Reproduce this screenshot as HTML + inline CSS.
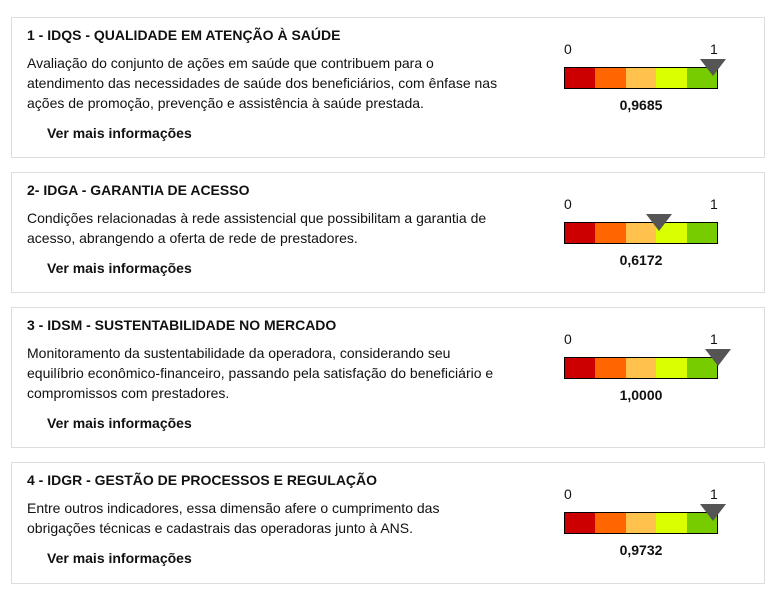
<!DOCTYPE html>
<html><head><meta charset="utf-8"><style>
body{margin:0;width:780px;height:596px;background:#fff;font-family:"Liberation Sans",sans-serif;color:#111;position:relative;overflow:hidden}
.box{position:absolute;left:11px;width:754px;border:1px solid #ddd;box-sizing:border-box}
.t{position:absolute;left:15px;top:9px;font-weight:bold;font-size:14px;white-space:nowrap}
.d{position:absolute;left:15px;top:35px;font-size:14px;line-height:20px;white-space:nowrap}
.v{position:absolute;left:35px;font-weight:bold;font-size:14px}
.g{position:absolute;left:551px;top:0;width:160px;height:120px}
.l{position:absolute;font-size:14px;top:23px}
.bar{position:absolute;left:1px;top:49px;width:152px;height:20px;border:1px solid #000;display:flex}
.bar div{flex:1}
.tri{position:absolute;top:41px;width:0;height:0;border-left:13px solid transparent;border-right:13px solid transparent;border-top:17px solid #555}
.val{position:absolute;left:0;width:156px;text-align:center;top:79px;font-weight:bold;font-size:14px}
</style></head><body>

<div class="box" style="top:17px;height:141px">
<div class="t">1 - IDQS - QUALIDADE EM ATENÇÃO À SAÚDE</div>
<div class="d">Avaliação do conjunto de ações em saúde que contribuem para o<br>atendimento das necessidades de saúde dos beneficiários, com ênfase nas<br>ações de promoção, prevenção e assistência à saúde prestada.</div>
<div class="v" style="top:107px">Ver mais informações</div>
<div class="g"><span class="l" style="left:1px">0</span><span class="l" style="left:147px">1</span>
<div class="bar"><div style="background:#cc0000"></div><div style="background:#ff6600"></div><div style="background:#ffc34d"></div><div style="background:#d9ff00"></div><div style="background:#77cc00"></div></div>
<div class="tri" style="left:137px"></div><div class="val">0,9685</div></div>
</div>

<div class="box" style="top:172px;height:121px">
<div class="t">2- IDGA - GARANTIA DE ACESSO</div>
<div class="d">Condições relacionadas à rede assistencial que possibilitam a garantia de<br>acesso, abrangendo a oferta de rede de prestadores.</div>
<div class="v" style="top:87px">Ver mais informações</div>
<div class="g"><span class="l" style="left:1px">0</span><span class="l" style="left:147px">1</span>
<div class="bar"><div style="background:#cc0000"></div><div style="background:#ff6600"></div><div style="background:#ffc34d"></div><div style="background:#d9ff00"></div><div style="background:#77cc00"></div></div>
<div class="tri" style="left:83px"></div><div class="val">0,6172</div></div>
</div>

<div class="box" style="top:307px;height:141px">
<div class="t">3 - IDSM - SUSTENTABILIDADE NO MERCADO</div>
<div class="d">Monitoramento da sustentabilidade da operadora, considerando seu<br>equilíbrio econômico-financeiro, passando pela satisfação do beneficiário e<br>compromissos com prestadores.</div>
<div class="v" style="top:107px">Ver mais informações</div>
<div class="g"><span class="l" style="left:1px">0</span><span class="l" style="left:147px">1</span>
<div class="bar"><div style="background:#cc0000"></div><div style="background:#ff6600"></div><div style="background:#ffc34d"></div><div style="background:#d9ff00"></div><div style="background:#77cc00"></div></div>
<div class="tri" style="left:142px"></div><div class="val">1,0000</div></div>
</div>

<div class="box" style="top:462px;height:122px">
<div class="t">4 - IDGR - GESTÃO DE PROCESSOS E REGULAÇÃO</div>
<div class="d">Entre outros indicadores, essa dimensão afere o cumprimento das<br>obrigações técnicas e cadastrais das operadoras junto à ANS.</div>
<div class="v" style="top:87px">Ver mais informações</div>
<div class="g"><span class="l" style="left:1px">0</span><span class="l" style="left:147px">1</span>
<div class="bar"><div style="background:#cc0000"></div><div style="background:#ff6600"></div><div style="background:#ffc34d"></div><div style="background:#d9ff00"></div><div style="background:#77cc00"></div></div>
<div class="tri" style="left:137px"></div><div class="val">0,9732</div></div>
</div>

</body></html>
